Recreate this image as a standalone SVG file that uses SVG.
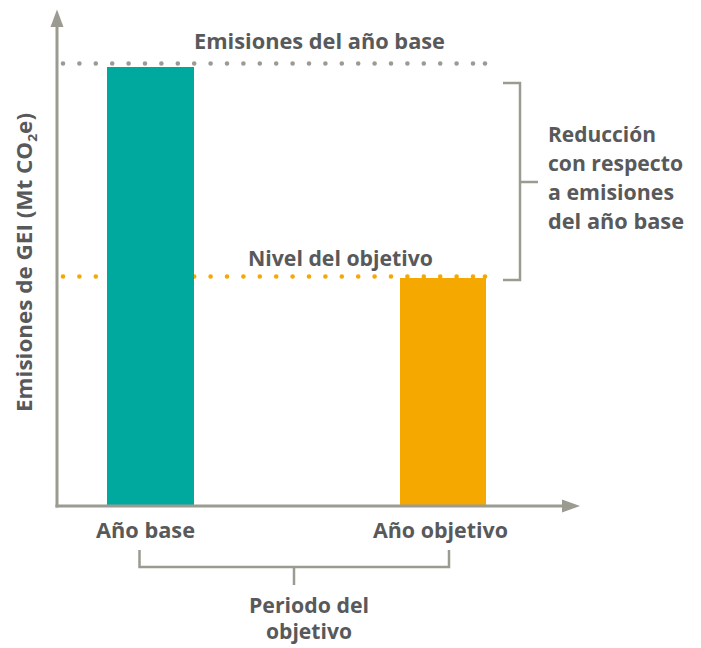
<svg xmlns="http://www.w3.org/2000/svg" width="701" height="648" viewBox="0 0 701 648">
<style>
.t{font-family:"Open Sans","Liberation Sans",sans-serif;font-weight:700;font-size:21px;fill:#58595b}
.ax{stroke:#9b9b91;stroke-width:3;fill:none}
.br{stroke:#9b9b91;stroke-width:2.5;fill:none}
.dg{stroke:#9b9b91;stroke-width:4.6;stroke-linecap:round;stroke-dasharray:0 16.4;fill:none}
.do{stroke:#f5a800;stroke-width:4.6;stroke-linecap:round;stroke-dasharray:0 16.4;fill:none}
</style>
<rect width="701" height="648" fill="#fff"/>
<g id="bar-objetivo"><rect x="400" y="278" width="86" height="228" fill="#f5a800"/></g>
<g id="lines">
<path class="dg" d="M63,63.5 H474"/>
<circle cx="485" cy="63.5" r="2.3" fill="#9b9b91"/>
<path class="do" d="M63,276.5 H474"/>
<circle cx="485" cy="276.5" r="2.3" fill="#f5a800"/>
</g>
<g id="bar-base"><rect x="107" y="67" width="87" height="439" fill="#00a99d"/></g>
<g id="axes">
<path class="ax" d="M57,507.5 V26"/>
<path d="M57,9.5 L50.5,27 L63.5,27 Z" fill="#9b9b91"/>
<path class="ax" d="M55.5,506 H564"/>
<path d="M580,506 L562,499.5 L562,512.5 Z" fill="#9b9b91"/>
</g>
<g id="connectors">
<path class="br" d="M503,83 H520 V280 H503"/>
<path class="br" d="M520,182 H538"/>
<path class="br" d="M139.5,550 V567 H449 V550"/>
<path class="br" d="M294,567 V585"/>
</g>
<g id="label-y">
<text class="t" transform="translate(32,262.5) rotate(-90)" text-anchor="middle" textLength="299" lengthAdjust="spacingAndGlyphs">Emisiones de GEI (Mt CO<tspan font-size="13" dy="5">2</tspan><tspan dy="-5">e)</tspan></text>
</g>
<g id="label-emisiones"><text class="t" x="319.5" y="49" text-anchor="middle" textLength="251" lengthAdjust="spacingAndGlyphs">Emisiones del año base</text></g>
<g id="label-nivel"><text class="t" x="340.5" y="266" text-anchor="middle" textLength="185" lengthAdjust="spacingAndGlyphs">Nivel del objetivo</text></g>
<g id="label-reduccion">
<text class="t" x="548" y="142" textLength="108" lengthAdjust="spacingAndGlyphs">Reducción</text>
<text class="t" x="548" y="171" textLength="135" lengthAdjust="spacingAndGlyphs">con respecto</text>
<text class="t" x="548" y="200" textLength="126" lengthAdjust="spacingAndGlyphs">a emisiones</text>
<text class="t" x="548" y="229" textLength="136" lengthAdjust="spacingAndGlyphs">del año base</text>
</g>
<g id="label-ano-base"><text class="t" x="145.5" y="538" text-anchor="middle" textLength="99" lengthAdjust="spacingAndGlyphs">Año base</text></g>
<g id="label-ano-objetivo"><text class="t" x="440.5" y="538" text-anchor="middle" textLength="135" lengthAdjust="spacingAndGlyphs">Año objetivo</text></g>
<g id="label-periodo">
<text class="t" x="309" y="613" text-anchor="middle" textLength="120" lengthAdjust="spacingAndGlyphs">Periodo del</text>
<text class="t" x="309" y="639" text-anchor="middle" textLength="86" lengthAdjust="spacingAndGlyphs">objetivo</text>
</g>
</svg>
